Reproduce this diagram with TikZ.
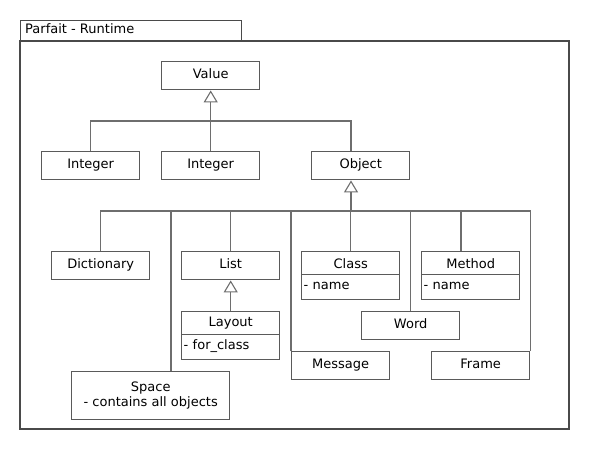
\documentclass[tikz,border=0pt]{standalone}
\usepackage{fontspec}
\setmainfont{DejaVu Sans}
\usetikzlibrary{arrows.meta}
\definecolor{boxcol}{HTML}{5A5A5A}
\definecolor{conncol}{HTML}{6E6E6E}
\definecolor{pkgcol}{HTML}{4A4A4A}
\tikzset{
  cls/.style={draw=boxcol, fill=white, line width=1.4pt, minimum width=98pt, minimum height=28pt,
    inner sep=0pt, anchor=north west, font=\fontsize{13}{15}\selectfont, text height=9.5pt, text depth=4pt},
  clshead/.style={cls, minimum height=23pt, text height=, text depth=},
  clsattr/.style={cls, minimum height=25pt, align=left, text width=94pt, inner xsep=2pt},
  conn/.style={draw=conncol, line width=1.4pt},
  gen/.style={conn, -{Triangle[open, width=14pt, length=12pt, line width=1.1pt]}},
  pkg/.style={draw=pkgcol, line width=1.4pt},
}
\begin{document}
\begin{tikzpicture}[x=1pt, y=-1pt]
\useasboundingbox (0,0) rectangle (590,450);
% package
\draw[pkg] (20,41) rectangle (569,429);
\node[pkg, draw, anchor=north west, minimum width=221pt, minimum height=21pt, inner sep=0pt] (tab) at (20,20) {};
\node[anchor=west, inner sep=0pt, font=\fontsize{13}{15}\selectfont, text height=9.5pt, text depth=4pt] (tabtext) at (25,30.5) {Parfait - Runtime};
% classes
\node[cls] (value) at (161,61) {Value};
\node[cls] (int1) at (41,151) {Integer};
\node[cls] (int2) at (161,151) {Integer};
\node[cls] (obj) at (311,151) {Object};
\node[cls] (dict) at (51,251) {Dictionary};
\node[cls] (list) at (181,251) {List};
\node[clshead] (layout) at (181,311) {Layout};
\node[clsattr] (layoutattr) at (181,334) {- for\_class};
\node[clshead] (class) at (301,251) {Class};
\node[clsattr] (classattr) at (301,274) {- name};
\node[clshead] (method) at (421,251) {Method};
\node[clsattr] (methodattr) at (421,274) {- name};
\node[cls] (word) at (361,311) {Word};
\node[cls] (message) at (291,351) {Message};
\node[cls] (frame) at (431,351) {Frame};
\node[cls, minimum width=158pt, minimum height=48pt, align=center, text height=, text depth=] (space) at (71,371) {Space\\- contains all objects};
% junctions
\coordinate (j1) at (210.7,121);
\coordinate (j2) at (351,211);
% generalisation Value
\draw[conn] (int1.north) |- ([xshift=40pt]obj.north west |- j1) -- ([xshift=40pt]obj.north west);
\draw[gen] (int2.north) -- (value.south);
% generalisation Object
\draw[gen] (j2) -- ([xshift=40pt]obj.south west);
\draw[conn] (dict.north) |- (frame.north east |- j2) -- (frame.north east);
\draw[conn] ([xshift=100pt]space.north west) -- ([xshift=100pt]space.north west |- j2);
\draw[conn] (list.north) -- (list.north |- j2);
\draw[conn] (message.north west) -- (message.north west |- j2);
\draw[conn] (class.north) -- (class.north |- j2);
\draw[conn] (word.north) -- (word.north |- j2);
\draw[conn] ([xshift=40pt]method.north west) -- ([xshift=40pt]method.north west |- j2);
% List <- Layout
\draw[gen] (layout.north) -- (list.south);
\end{tikzpicture}
\end{document}
